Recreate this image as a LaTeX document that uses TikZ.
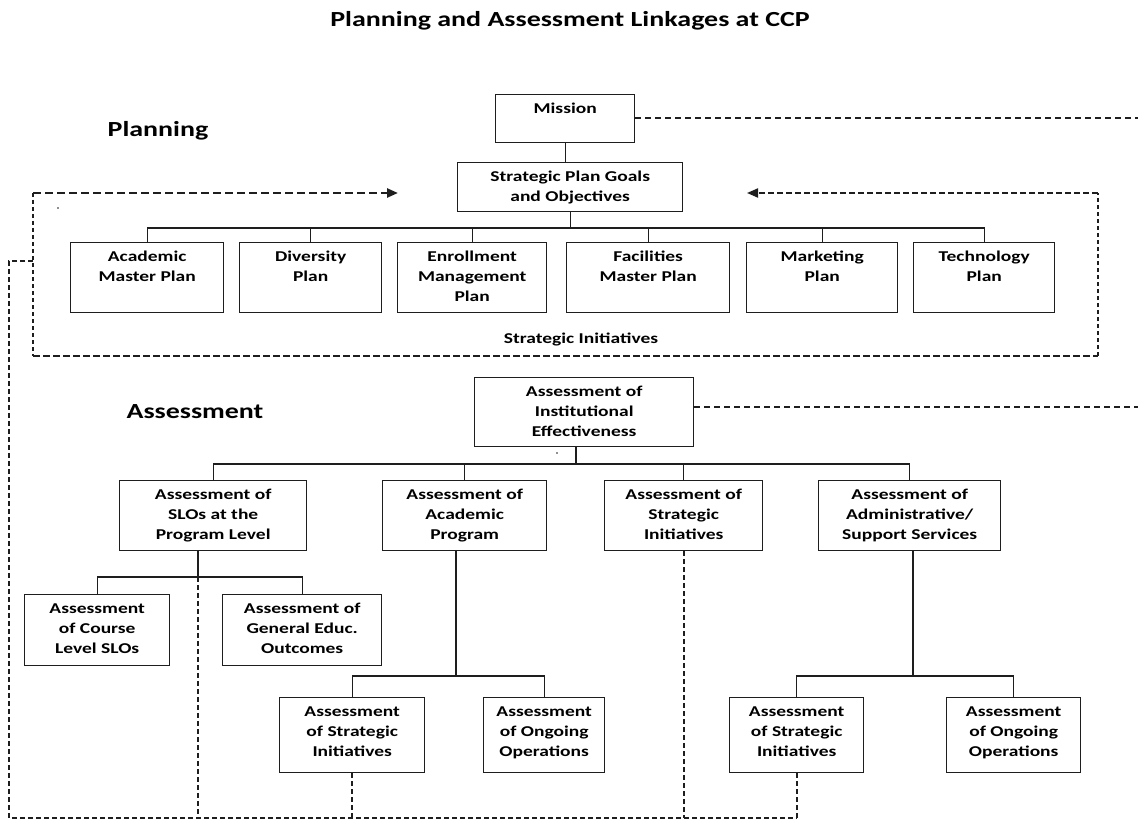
\documentclass[tikz,border=0pt]{standalone}
\usepackage{fontspec}
\setmainfont{Carlito}[FakeStretch=1.3]
\usetikzlibrary{arrows.meta}
\definecolor{ink}{HTML}{1E1E1E}
\newcommand{\boxtext}[3]{\parbox[t][#2][t]{#1}{\centering\rule{0pt}{19pt}#3}}
\tikzset{
  bx/.style={draw=ink, line width=1.4pt, inner sep=0pt, anchor=north west, font=\bfseries\fontsize{15}{20}\selectfont, text=black},
  tree/.style={draw=ink, line width=1.4pt},
  headtxt/.style={font=\bfseries\fontsize{21.5}{24}\selectfont, anchor=base, inner sep=0pt},
  smalltxt/.style={font=\bfseries\fontsize{15}{20}\selectfont, anchor=base, inner sep=0pt},
  linkdash/.style={draw=ink, line width=1.3pt, dash pattern=on 6pt off 4pt},
  loopTop/.style={draw=ink, line width=2.4pt, dash pattern=on 8pt off 4pt},
  loopSide/.style={draw=ink, line width=1.6pt, dash pattern=on 4pt off 3pt},
  loopBot/.style={draw=ink, line width=1.6pt, dash pattern=on 7pt off 3pt},
  feed/.style={draw=ink, line width=1.6pt, dash pattern=on 5pt off 3pt},
  tip/.style={-{Triangle[length=11pt,width=9pt]}}
}
\begin{document}
\begin{tikzpicture}[x=1pt,y=-1pt]
\useasboundingbox (0,0) rectangle (1138,821);

% headings
\node[headtxt] (title) at (570,27) {Planning and Assessment Linkages at CCP};
\node[headtxt] (hplan) at (158,137) {Planning};
\node[headtxt] (hass) at (195,418) {Assessment};

% planning boxes
\node[bx] (mission) at (495,94) {\boxtext{139pt}{48pt}{Mission}};
\node[bx] (spg) at (457,162) {\boxtext{225pt}{49pt}{Strategic Plan Goals\\and Objectives}};
\node[bx] (amp) at (70,242) {\boxtext{153pt}{70pt}{Academic\\Master Plan}};
\node[bx] (div) at (239,242) {\boxtext{142pt}{70pt}{Diversity\\Plan}};
\node[bx] (emp) at (397,242) {\boxtext{149pt}{70pt}{Enrollment\\Management\\Plan}};
\node[bx] (fmp) at (566,242) {\boxtext{163pt}{70pt}{Facilities\\Master Plan}};
\node[bx] (mkt) at (746,242) {\boxtext{151pt}{70pt}{Marketing\\Plan}};
\node[bx] (tech) at (913,242) {\boxtext{141pt}{70pt}{Technology\\Plan}};
\node[smalltxt] (sinit) at (581,343) {Strategic Initiatives};

% assessment boxes
\node[bx] (ie) at (474,377) {\boxtext{219pt}{69pt}{Assessment of\\Institutional\\Effectiveness}};
\node[bx] (slo) at (119,480) {\boxtext{187pt}{70pt}{Assessment of\\SLOs at the\\Program Level}};
\node[bx] (acp) at (382,480) {\boxtext{164pt}{70pt}{Assessment of\\Academic\\Program}};
\node[bx] (asi) at (604,480) {\boxtext{158pt}{70pt}{Assessment of\\Strategic\\Initiatives}};
\node[bx] (ads) at (818,480) {\boxtext{182pt}{70pt}{Assessment of\\Administrative/\\Support Services}};
\node[bx] (cls) at (24,594) {\boxtext{145pt}{71pt}{Assessment\\of Course\\Level SLOs}};
\node[bx] (gen) at (222,594) {\boxtext{159pt}{71pt}{Assessment of\\General Educ.\\Outcomes}};
\node[bx] (si1) at (279,697) {\boxtext{145pt}{75pt}{Assessment\\of Strategic\\Initiatives}};
\node[bx] (oo1) at (483,697) {\boxtext{121pt}{75pt}{Assessment\\of Ongoing\\Operations}};
\node[bx] (si2) at (729,697) {\boxtext{134pt}{75pt}{Assessment\\of Strategic\\Initiatives}};
\node[bx] (oo2) at (946,697) {\boxtext{134pt}{75pt}{Assessment\\of Ongoing\\Operations}};

% junction coordinates
\coordinate (pbar) at (0,228);
\coordinate (abar) at (0,464);
\coordinate (ieJ) at (576,0);
\coordinate (sloJ) at (198,577);
\coordinate (acpJ) at (456,676);
\coordinate (adsJ) at (913,676);

% planning tree
\draw[tree] (mission.south) -- (mission.south |- spg.north);
\draw[tree] (spg.south) -- (spg.south |- pbar);
\draw[tree] (amp.north) -- (amp.north |- pbar) -- (tech.north |- pbar) -- (tech.north);
\draw[tree] (div.north) -- (div.north |- pbar);
\draw[tree] (emp.north) -- (emp.north |- pbar);
\draw[tree] (fmp.north) -- (fmp.north |- pbar);
\draw[tree] (mkt.north) -- (mkt.north |- pbar);

% assessment tree
\draw[tree] (ie.south -| ieJ) -- (ieJ |- abar);
\draw[tree] (slo.north) -- (slo.north |- abar) -- (ads.north |- abar) -- (ads.north);
\draw[tree] (acp.north) -- (acp.north |- abar);
\draw[tree] (asi.north) -- (asi.north |- abar);
\draw[tree] (slo.south -| sloJ) -- (sloJ);
\draw[tree] (cls.north) -- (cls.north |- sloJ) -- (gen.north |- sloJ) -- (gen.north);
\draw[tree] (acp.south -| acpJ) -- (acpJ);
\draw[tree] (si1.north) -- (si1.north |- acpJ) -- (oo1.north |- acpJ) -- (oo1.north);
\draw[tree] (ads.south -| adsJ) -- (adsJ);
\draw[tree] (si2.north) -- (si2.north |- adsJ) -- (oo2.north |- adsJ) -- (oo2.north);

% links to the right edge
\coordinate (mEnd) at (1138,118);
\coordinate (ieEnd) at (1138,407);
\draw[linkdash] (mission.east |- mEnd) -- (mEnd);
\draw[linkdash] (ie.east |- ieEnd) -- (ieEnd);

% strategic initiatives loop
\coordinate (arrL) at (398,193);
\coordinate (arrR) at (747,193);
\coordinate (lpTL) at (33,193);
\coordinate (lpBL) at (33,356);
\coordinate (lpBR) at (1098,356);
\coordinate (lpTR) at (1098,193);
\draw[loopTop, tip] (lpTL) -- (arrL);
\draw[loopTop, tip, line width=2pt, dash pattern=on 6pt off 3pt] (lpTR) -- (arrR);
\draw[loopSide] (lpTL) -- (lpBL);
\draw[loopBot] (lpBL) -- (lpBR);
\draw[loopSide] (lpBR) -- (lpTR);

% feedback from assessment
\coordinate (fbJ) at (33,261);
\coordinate (fbC) at (9,261);
\coordinate (fbB) at (9,818);
\coordinate (fbBot) at (0,818);
\draw[feed] (fbJ) -- (fbC) -- (fbB) -- (si2.south |- fbBot);
\draw[feed] (sloJ) -- (sloJ |- fbBot);
\draw[feed] (si1.south) -- (si1.south |- fbBot);
\draw[feed] (asi.south) -- (asi.south |- fbBot);
\draw[feed] (si2.south) -- (si2.south |- fbBot);

% stray dots
\fill[ink] (58,208) circle (0.8);
\fill[ink] (557,453) circle (0.8);
\end{tikzpicture}
\end{document}
